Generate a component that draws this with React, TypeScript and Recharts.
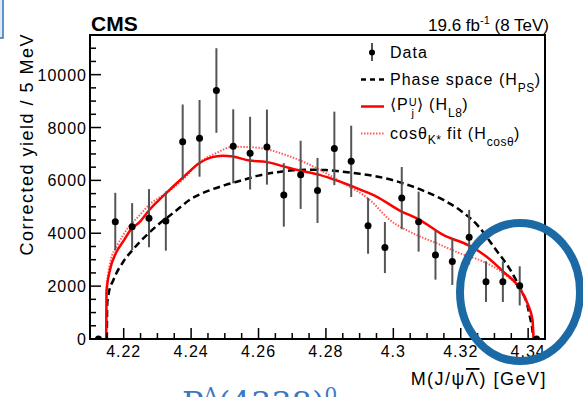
import React from "react";
import {
  ComposedChart,
  Line,
  Scatter,
  ErrorBar,
  XAxis,
  YAxis,
  ReferenceArea,
} from "recharts";

// ---------- data ----------
const dataX = [4.2125, 4.2175, 4.2225, 4.2275, 4.2325, 4.2375, 4.2425, 4.2475, 4.2525, 4.2575, 4.2625, 4.2675, 4.2725, 4.2775, 4.2825, 4.2875, 4.2925, 4.2975, 4.3025, 4.3075, 4.3125, 4.3175, 4.3225, 4.3275, 4.3325, 4.3375, 4.3425];
const dataY = [0, 4440, 4250, 4570, 4460, 7460, 7590, 9400, 7290, 7030, 7260, 5450, 6210, 5620, 7210, 6720, 4280, 3460, 5330, 4440, 3180, 2930, 3850, 2170, 2170, 2010, 0];
const dataErr = [0, 1090, 890, 1100, 1120, 1410, 1450, 1600, 1400, 1375, 1420, 1200, 1290, 1230, 1390, 1350, 1055, 965, 1175, 1135, 935, 885, 1035, 770, 770, 740, 0];

const psX = [4.215, 4.2151, 4.2155, 4.217, 4.22, 4.2225, 4.225, 4.23, 4.235, 4.24, 4.245, 4.25, 4.255, 4.26, 4.265, 4.27, 4.275, 4.28, 4.285, 4.29, 4.295, 4.3, 4.305, 4.31, 4.315, 4.32, 4.325, 4.33, 4.335, 4.3375, 4.34, 4.3405, 4.3412, 4.3416];
const psY = [0, 1300, 1700, 2250, 2950, 3350, 3700, 4300, 4800, 5300, 5600, 5820, 6000, 6180, 6300, 6380, 6400, 6390, 6330, 6250, 6150, 6000, 5800, 5550, 5250, 4850, 4300, 3450, 2550, 1950, 1150, 850, 400, 0];

const l8X = [4.2148, 4.2149, 4.216, 4.2177, 4.22, 4.2222, 4.2247, 4.2276, 4.23, 4.2326, 4.2375, 4.2425, 4.246, 4.2494, 4.2524, 4.2573, 4.2623, 4.2672, 4.2722, 4.2781, 4.284, 4.29, 4.295, 4.3019, 4.3078, 4.3148, 4.3227, 4.3276, 4.3326, 4.3375, 4.34, 4.3413, 4.3416];
const l8Y = [0, 1790, 2650, 3250, 3720, 4150, 4420, 4880, 5200, 5520, 6100, 6660, 6870, 6930, 6900, 6750, 6700, 6540, 6375, 6210, 5960, 5660, 5390, 4860, 4510, 3940, 3520, 3120, 2550, 1920, 1290, 720, 0];

const cosX = [4.2148, 4.2149, 4.216, 4.2182, 4.2212, 4.2245, 4.2276, 4.2326, 4.2375, 4.2425, 4.2474, 4.2524, 4.2573, 4.2623, 4.2672, 4.2742, 4.2791, 4.285, 4.293, 4.2989, 4.3058, 4.3128, 4.3197, 4.3266, 4.3326, 4.3375, 4.34, 4.3413, 4.3416];
const cosY = [0, 1900, 2900, 3560, 4190, 4650, 5080, 5520, 6020, 6680, 7030, 7270, 7260, 7180, 7000, 6650, 6340, 5900, 5265, 4510, 4000, 3625, 3245, 2930, 2490, 1860, 1220, 600, 0];

const xTicks = [4.215, 4.22, 4.225, 4.23, 4.235, 4.24, 4.245, 4.25, 4.255, 4.26, 4.265, 4.27, 4.275, 4.28, 4.285, 4.29, 4.295, 4.3, 4.305, 4.31, 4.315, 4.32, 4.325, 4.33, 4.335, 4.34];
const xMajorLabels = ["4.22", "4.24", "4.26", "4.28", "4.3", "4.32", "4.34"];
const yTicks = [0, 500, 1000, 1500, 2000, 2500, 3000, 3500, 4000, 4500, 5000, 5500, 6000, 6500, 7000, 7500, 8000, 8500, 9000, 9500, 10000, 10500, 11000, 11500];
const yMajorLabels = ["0", "2000", "4000", "6000", "8000", "10000"];

const xDomain = [4.21, 4.345];
const yDomain = [0, 11500];

// ---------- derived tables ----------
const points = dataX.map((x, i) => ({ x, y: dataY[i], err: dataErr[i] }));
const psData = psX.map((x, i) => ({ x, y: psY[i] }));
const l8Data = l8X.map((x, i) => ({ x, y: l8Y[i] }));
const cosData = cosX.map((x, i) => ({ x, y: cosY[i] }));

const FONT = "'Liberation Sans', Arial, Helvetica, sans-serif";

const XTick = (props: any) => {
  const { x, y, payload } = props;
  const lab = String(+Number(payload.value).toFixed(3));
  const major = xMajorLabels.includes(lab);
  return (
    <g>
      <line x1={x} x2={x} y1={y} y2={y - (major ? 11 : 6)} stroke="#000" strokeWidth={1.5} />
      {major && (
        <text x={x} y={y + 18} textAnchor="middle" fontFamily={FONT} fontSize={16} letterSpacing={1} fill="#000">
          {lab}
        </text>
      )}
    </g>
  );
};

const YTick = (props: any) => {
  const { x, y, payload } = props;
  const lab = String(payload.value);
  const major = yMajorLabels.includes(lab);
  return (
    <g>
      <line x1={x} x2={x + (major ? 11 : 6)} y1={y} y2={y} stroke="#000" strokeWidth={1.5} />
      {major && (
        <text x={x - 3} y={y + 6} textAnchor="end" fontFamily={FONT} fontSize={16} letterSpacing={1} fill="#000">
          {lab}
        </text>
      )}
    </g>
  );
};

const DataDot = (props: any) => {
  const { cx, cy } = props;
  if (cx == null || cy == null) return null;
  return <circle cx={cx} cy={cy} r={3.5} fill="#000" />;
};

const sub = (t: string, top = 7) => (
  <span style={{ fontSize: 12, position: "relative", top, letterSpacing: 0.5 }}>{t}</span>
);

const Legend = () => {
  const row: React.CSSProperties = { height: 27, display: "flex", alignItems: "center", whiteSpace: "nowrap" };
  return (
    <div
      style={{
        position: "absolute",
        left: 355,
        top: 39,
        fontFamily: FONT,
        fontSize: 16,
        letterSpacing: 1,
        color: "#000",
        pointerEvents: "none",
      }}
    >
      <div style={row}>
        <svg width={35} height={27}>
          <line x1={17} x2={17} y1={4} y2={22} stroke="#555" strokeWidth={2} />
          <circle cx={17} cy={13.5} r={3} fill="#000" />
        </svg>
        <span>Data</span>
      </div>
      <div style={row}>
        <svg width={35} height={27}>
          <line x1={6} x2={29} y1={13.5} y2={13.5} stroke="#000" strokeWidth={2.5} strokeDasharray="5 4" />
        </svg>
        <span>Phase space (H{sub("PS")})</span>
      </div>
      <div style={row}>
        <svg width={35} height={27}>
          <line x1={6} x2={29} y1={13.5} y2={13.5} stroke="#ff0000" strokeWidth={2.5} />
        </svg>
        <span>
          ⟨P
          <span style={{ display: "inline-block", verticalAlign: "-7px", fontSize: 11, lineHeight: "11px", textAlign: "center", letterSpacing: 0 }}>
            U<br />j
          </span>
          ⟩ (H{sub("L8")})
        </span>
      </div>
      <div style={row}>
        <svg width={35} height={27}>
          <line x1={6} x2={29} y1={13.5} y2={13.5} stroke="#ff5a5a" strokeWidth={2} strokeDasharray="1.5 1.5" />
        </svg>
        <span>
          cosθ{sub("K*", 5)} fit (H{sub("cosθ")})
        </span>
      </div>
    </div>
  );
};

export default function App() {
  return (
    <div style={{ position: "absolute", left: 0, top: 0, width: 583, height: 397, background: "#fff", overflow: "hidden" }}>
      <ComposedChart width={583} height={397} margin={{ top: 35, right: 38, bottom: 18, left: 10 }}>
        <XAxis
          type="number"
          dataKey="x"
          domain={xDomain}
          allowDataOverflow
          ticks={xTicks}
          interval={0}
          tick={<XTick />}
          tickLine={false}
          tickSize={0}
          tickMargin={0}
          height={40}
          axisLine={{ stroke: "#000", strokeWidth: 2 }}
        />
        <YAxis
          type="number"
          dataKey="y"
          domain={yDomain}
          allowDataOverflow
          ticks={yTicks}
          interval={0}
          tick={<YTick />}
          tickLine={false}
          tickSize={0}
          tickMargin={0}
          width={80}
          axisLine={{ stroke: "#000", strokeWidth: 2 }}
        />
        <ReferenceArea x1={xDomain[0]} x2={xDomain[1]} y1={yDomain[0]} y2={yDomain[1]} fill="none" fillOpacity={0} stroke="#000" strokeWidth={2} />
        <Line data={psData} dataKey="y" type="monotone" stroke="#000" strokeWidth={2.5} strokeDasharray="7 4" dot={false} activeDot={false} isAnimationActive={false} />
        <Line data={cosData} dataKey="y" type="monotone" stroke="#ff5a5a" strokeWidth={2} strokeDasharray="1.5 1.5" dot={false} activeDot={false} isAnimationActive={false} />
        <Line data={l8Data} dataKey="y" type="monotone" stroke="#ff0000" strokeWidth={2.5} dot={false} activeDot={false} isAnimationActive={false} />
        <Scatter data={points} dataKey="y" shape={<DataDot />} isAnimationActive={false}>
          <ErrorBar dataKey="err" direction="y" width={0} stroke="#555" strokeWidth={2} isAnimationActive={false} />
        </Scatter>
      </ComposedChart>

      <svg width={583} height={397} style={{ position: "absolute", left: 0, top: 0, pointerEvents: "none" }}>
        <rect x={-2} y={-2} width={5} height={40} fill="#dfe9f5" stroke="#2f74c0" strokeWidth={1.5} />
        <text x={91} y={31} fontFamily={FONT} fontSize={21} fontWeight="bold" fill="#000">CMS</text>
        <text x={549} y={31} textAnchor="end" fontFamily={FONT} fontSize={17} fill="#000">
          19.6 fb<tspan dy={-7} fontSize={11}>-1</tspan>
          <tspan dy={7}> (8 TeV)</tspan>
        </text>
        <text
          transform="translate(33,33) rotate(-90)"
          x={0}
          y={0}
          textAnchor="end"
          fontFamily={FONT}
          fontSize={18}
          letterSpacing={1.5}
          fill="#000"
        >
          Corrected yield / 5 MeV
        </text>
        <text x={547} y={385} textAnchor="end" fontFamily={FONT} fontSize={18} letterSpacing={1.5} fill="#000">
          M(J/ψ<tspan style={{ textDecoration: "overline" }}>Λ</tspan>) [GeV]
        </text>
        <ellipse cx={520} cy={292} rx={60} ry={69} fill="none" stroke="#1b6aa5" strokeWidth={8} />
        <text x={182} y={414} fontFamily="'DejaVu Serif', serif" fontSize={32} fill="#3a78c2">
          P<tspan dy={-12} fontSize={20}>Λ</tspan>
          <tspan dy={12}>(4338)</tspan>
          <tspan dy={-12} fontSize={20}>0</tspan>
          <tspan dy={12}> ·</tspan>
        </text>
      </svg>
      <Legend />
    </div>
  );
}
